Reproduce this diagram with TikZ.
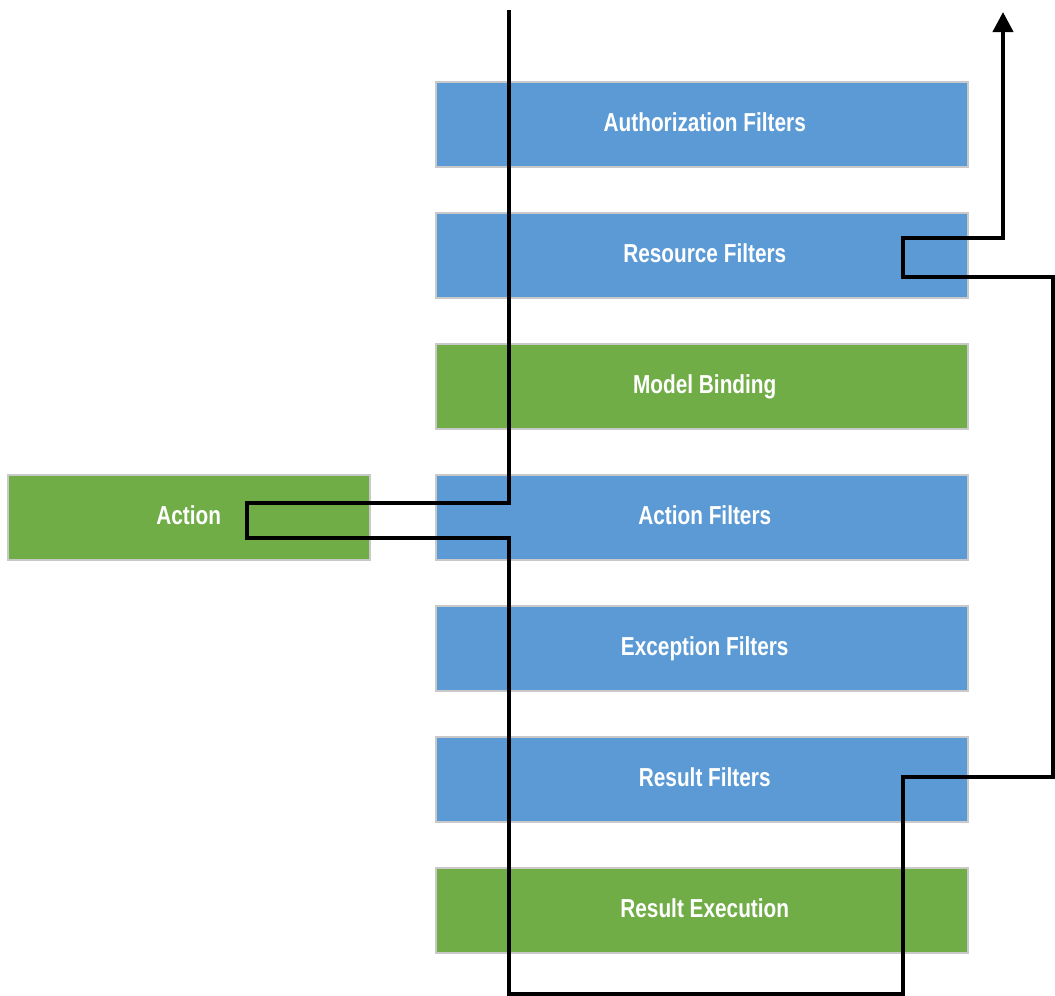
\documentclass[tikz,border=0pt]{standalone}
\usepackage{fontspec}
\setmainfont{Liberation Sans}[FakeStretch=0.8]
\usetikzlibrary{arrows.meta}
\definecolor{fblue}{HTML}{5B9AD5}
\definecolor{fgreen}{HTML}{71AD47}
\definecolor{fborder}{HTML}{C9C9C9}
\tikzset{
  stage/.style={draw=fborder, line width=1.5pt, minimum width=532pt, minimum height=85pt, inner sep=0pt, text height=19pt, text depth=4pt, text=white, font=\fontsize{26}{30}\selectfont\bfseries, anchor=north west},
  bluebox/.style={stage, fill=fblue},
  greenbox/.style={stage, fill=fgreen},
  flow/.style={line width=4pt, black, line join=miter, line cap=butt},
}
\begin{document}
\begin{tikzpicture}[x=1pt,y=-1pt]
\useasboundingbox (0,0) rectangle (1055,996);
\node[bluebox] (auth) at (435,81) {\hspace*{6pt}Authorization Filters};
\node[bluebox] (res) at (435,212) {\hspace*{6pt}Resource Filters};
\node[greenbox] (mb) at (435,343) {\hspace*{6pt}Model Binding};
\node[bluebox] (af) at (435,474) {\hspace*{6pt}Action Filters};
\node[bluebox] (ef) at (435,605) {\hspace*{6pt}Exception Filters};
\node[bluebox] (rf) at (435,736) {\hspace*{6pt}Result Filters};
\node[greenbox] (re) at (435,867) {\hspace*{6pt}Result Execution};
\node[greenbox, minimum width=362pt] (act) at (7,474) {Action};
\coordinate (start) at (509,10);
\coordinate (finish) at (1003,12);
\draw[flow, -{Triangle[width=20pt,length=20pt]}] (start) -- (509,503) -- (247,503) -- (247,538) -- (509,538) -- (509,994) -- (903,994) -- (903,777) -- (1053,777) -- (1053,277) -- (903,277) -- (903,238) -- (1003,238) -- (finish);
\end{tikzpicture}
\end{document}
